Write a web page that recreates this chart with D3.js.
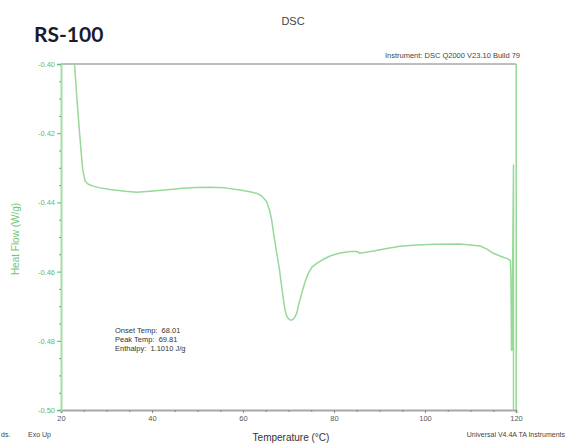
<!DOCTYPE html>
<html>
<head>
<meta charset="utf-8">
<script src="https://cdn.jsdelivr.net/npm/d3@7"></script>
<style>
  html, body { margin: 0; padding: 0; background: #fff; }
  svg { display: block; }
  text { font-family: "Liberation Sans", Arial, sans-serif; }
</style>
</head>
<body>
<svg id="chart" width="567" height="447"></svg>
<script>
// ---- data ----
const temperature = [22.75, 22.97, 23.52, 24.07, 24.40, 24.73, 25.27, 25.93, 27.03, 28.57, 30.77, 34.07, 36.70, 39.56, 42.86, 46.15, 49.45, 52.75, 56.04, 59.34, 61.54, 63.08, 64.18, 65.21, 65.82, 66.31, 66.81, 67.41, 68.02, 68.51, 68.90, 69.23, 69.60, 69.96, 70.33, 70.70, 71.21, 71.80, 72.31, 72.90, 73.63, 74.35, 75.16, 76.20, 77.58, 79.12, 81.32, 83.52, 84.99, 85.71, 86.59, 89.01, 91.58, 94.51, 98.18, 102.20, 107.69, 112.09, 113.63, 115.01, 116.48, 118.31, 118.79, 118.90, 119.01, 119.12, 119.45, 119.45, 120.05, 120.05];
const heatFlow = [-0.3960, -0.4000, -0.4104, -0.4197, -0.4249, -0.4301, -0.4338, -0.4347, -0.4353, -0.4358, -0.4363, -0.4368, -0.4371, -0.4368, -0.4364, -0.4360, -0.4357, -0.4356, -0.4358, -0.4364, -0.4369, -0.4374, -0.4382, -0.4398, -0.4422, -0.4451, -0.4497, -0.4546, -0.4595, -0.4644, -0.4682, -0.4711, -0.4728, -0.4736, -0.4740, -0.4740, -0.4736, -0.4721, -0.4691, -0.4663, -0.4630, -0.4605, -0.4587, -0.4576, -0.4565, -0.4555, -0.4546, -0.4542, -0.4542, -0.4547, -0.4545, -0.4540, -0.4533, -0.4527, -0.4523, -0.4521, -0.4520, -0.4526, -0.4535, -0.4547, -0.4555, -0.4564, -0.4569, -0.4624, -0.4827, -0.4827, -0.4292, -0.5030, -0.5030, -0.3960];
const xTicks = [20, 40, 60, 80, 100, 120];
const xMinorTicks = [25, 30, 35, 45, 50, 55, 65, 70, 75, 85, 90, 95, 105, 110, 115];
const yTicks = [-0.40, -0.42, -0.44, -0.46, -0.48, -0.50];
const yMinorTicks = [-0.405, -0.41, -0.415, -0.425, -0.43, -0.435, -0.445, -0.45, -0.455, -0.465, -0.47, -0.475, -0.485, -0.49, -0.495];
const annotations = ["Onset Temp:  68.01", "Peak Temp:  69.81", "Enthalpy:  1.1010 J/g"];

// ---- drawing ----
const svg = d3.select("#chart");
const x = d3.scaleLinear().domain([20, 120]).range([61, 516]);
const y = d3.scaleLinear().domain([-0.50, -0.40]).range([410, 64]);

const curveColor = "#98d898";
const greenText = "#62bb62";

// clip
svg.append("clipPath").attr("id", "plotclip")
  .append("rect").attr("x", 61).attr("y", 64).attr("width", 458).attr("height", 346);

// top frame line
svg.append("line").attr("x1", x(20)).attr("x2", x(120)).attr("y1", y(-0.40)).attr("y2", y(-0.40))
  .attr("stroke", "#a8a8a8").attr("stroke-width", 1.5);

// x axis
const gx = svg.append("g").attr("transform", `translate(0,${y(-0.50)})`)
  .call(d3.axisBottom(x).tickValues(xTicks).tickSize(3).tickPadding(3).tickFormat(d => d));
gx.select(".domain").attr("stroke", "#a8a8a8").attr("stroke-width", 2);
gx.selectAll(".tick line").attr("stroke", "#888");
gx.selectAll(".tick text").attr("fill", "#555").style("font-size", "7.5px");
svg.append("g").attr("transform", `translate(0,${y(-0.50)})`)
  .call(d3.axisBottom(x).tickValues(xMinorTicks).tickSize(2).tickFormat(""))
  .call(g => g.select(".domain").remove())
  .selectAll(".tick line").attr("stroke", "#888");

// y axis
const gy = svg.append("g").attr("transform", `translate(${x(20)},0)`)
  .call(d3.axisLeft(y).tickValues(yTicks).tickSize(4).tickPadding(2).tickFormat(d => d.toFixed(2)));
gy.select(".domain").attr("stroke", "#a6dea6").attr("stroke-width", 2);
gy.selectAll(".tick line").attr("stroke", greenText);
gy.selectAll(".tick text").attr("fill", greenText).style("font-size", "7.5px");
svg.append("g").attr("transform", `translate(${x(20)},0)`)
  .call(d3.axisLeft(y).tickValues(yMinorTicks).tickSize(2).tickFormat(""))
  .call(g => g.select(".domain").remove())
  .selectAll(".tick line").attr("stroke", greenText);

// curve
const pts = temperature.map((t, i) => [t, heatFlow[i]]);
svg.append("path")
  .datum(pts)
  .attr("clip-path", "url(#plotclip)")
  .attr("fill", "none")
  .attr("stroke", curveColor)
  .attr("stroke-width", 1.5)
  .attr("stroke-linejoin", "round")
  .attr("d", d3.line().x(d => x(d[0])).y(d => y(d[1])));

// titles and labels
svg.append("text").attr("x", 293).attr("y", 25).attr("text-anchor", "middle")
  .attr("fill", "#444").style("font-size", "11px").text("DSC");
svg.append("text").attr("x", 34).attr("y", 42)
  .attr("fill", "#1b1b2a").style("font-family", "Lato, 'Open Sans', sans-serif")
  .style("font-weight", "bold").style("font-size", "21px").text("RS-100");
svg.append("text").attr("x", 520).attr("y", 58).attr("text-anchor", "end")
  .attr("fill", "#444").style("font-size", "7.5px").text("Instrument: DSC Q2000 V23.10 Build 79");

svg.append("text").attr("transform", "translate(19,239) rotate(-90)").attr("text-anchor", "middle")
  .attr("fill", "#72c672").style("font-size", "10px").text("Heat Flow (W/g)");

svg.append("text").attr("x", 291).attr("y", 441).attr("text-anchor", "middle")
  .attr("fill", "#333").style("font-size", "10px").text("Temperature (°C)");
svg.append("text").attr("x", 28).attr("y", 437)
  .attr("fill", "#444").style("font-size", "7px").text("Exo Up");
svg.append("text").attr("x", 565).attr("y", 437).attr("text-anchor", "end")
  .attr("fill", "#444").style("font-size", "7px").text("Universal V4.4A TA Instruments");
svg.append("text").attr("x", 1).attr("y", 437)
  .attr("fill", "#444").style("font-size", "7px").text("ds.");

// annotation block
svg.append("g").selectAll("text").data(annotations).join("text")
  .attr("x", 115).attr("y", (d, i) => 333 + i * 9)
  .attr("fill", "#333").style("font-size", "7.5px").style("white-space", "pre")
  .attr("xml:space", "preserve")
  .text(d => d);
</script>
</body>
</html>
